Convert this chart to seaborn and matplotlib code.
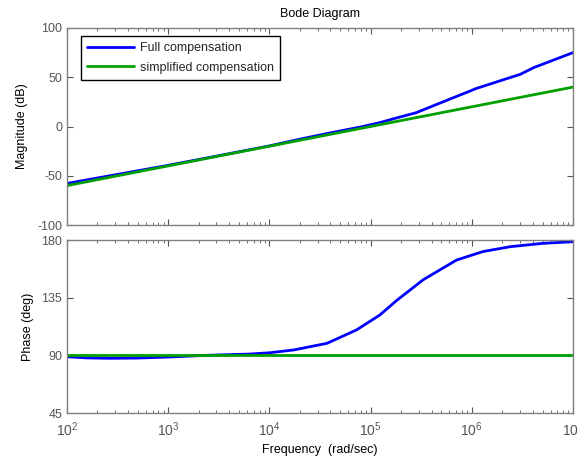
import numpy as np
import pandas as pd
import matplotlib
matplotlib.use("Agg")
import matplotlib.pyplot as plt
import seaborn as sns
from matplotlib.ticker import LogLocator, FixedLocator

# frequency points (log10 rad/sec)
mag_logw = [2.0, 2.5, 3.0, 3.5, 4.0, 4.3, 4.6, 4.9, 5.09, 5.25, 5.45, 5.72, 6.05, 6.48, 6.61, 7.0]
mag_full = [-57.8, -48.6, -39.4, -29.6, -19.7, -12.9, -6.5, -0.5, 3.9, 8.5, 14.0, 25.2,
            38.8, 53.0, 59.7, 75.0]
simp_logw = [2.0, 7.0]
mag_simp = [-60.0, 40.0]

ph_logw = [2.0, 2.2, 2.42, 2.7, 3.0, 3.41, 3.8, 4.0, 4.24, 4.57, 4.86, 5.09, 5.26, 5.52,
           5.85, 6.11, 6.38, 6.7, 7.0]
ph_full = [88.9, 88.0, 87.7, 87.9, 88.7, 90.1, 91.0, 92.0, 94.2, 99.4, 109.8, 121.4, 133.0,
           149.0, 164.4, 171.0, 174.8, 177.4, 178.7]
ph_simp = [90.0, 90.0]

mag_ticks = [-100, -50, 0, 50, 100]
ph_ticks = [45, 90, 135, 180]
x_ticks = [1e2, 1e3, 1e4, 1e5, 1e6, 1e7]

BLUE = "#0000ff"
GREEN = "#00a000"
GREY = "#555555"

sns.set_style("ticks")
plt.rcParams["font.family"] = ["Liberation Sans", "DejaVu Sans"]
plt.rcParams["mathtext.fontset"] = "custom"
plt.rcParams["mathtext.rm"] = "Liberation Sans"
plt.rcParams["axes.unicode_minus"] = False

mag_df = pd.concat([
    pd.DataFrame({"w": 10 ** np.array(mag_logw), "val": mag_full, "s": "Full compensation"}),
    pd.DataFrame({"w": 10 ** np.array(simp_logw), "val": mag_simp, "s": "simplified compensation"}),
])
ph_df = pd.concat([
    pd.DataFrame({"w": 10 ** np.array(ph_logw), "val": ph_full, "s": "Full compensation"}),
    pd.DataFrame({"w": 10 ** np.array(simp_logw), "val": ph_simp, "s": "simplified compensation"}),
])
pal = {"Full compensation": BLUE, "simplified compensation": GREEN}

fig = plt.figure(figsize=(5.78, 4.65), dpi=100)
ax1 = fig.add_axes([0.1159, 0.5161, 0.8754, 0.4237])
ax2 = fig.add_axes([0.1159, 0.1118, 0.8754, 0.372])

sns.lineplot(data=mag_df, x="w", y="val", hue="s", palette=pal, ax=ax1,
             linewidth=2, sort=False, estimator=None)
sns.lineplot(data=ph_df, x="w", y="val", hue="s", palette=pal, ax=ax2,
             linewidth=2, sort=False, estimator=None, legend=False)

for ax in (ax1, ax2):
    ax.set_xscale("log")
    ax.set_xlim(1e2, 1e7)
    ax.xaxis.set_major_locator(FixedLocator(x_ticks))
    ax.xaxis.set_minor_locator(LogLocator(base=10, subs=np.arange(2, 10), numticks=20))
    ax.tick_params(which="both", direction="in", top=True, right=True,
                   colors=GREY, labelsize=9)
    ax.tick_params(which="major", length=4)
    ax.tick_params(which="minor", length=2)
    ax.tick_params(axis="x", pad=5, labelsize=10)
    for sp in ax.spines.values():
        sp.set_color("#808080")
        sp.set_linewidth(1)
    ax.set_xlabel("")

ax1.set_ylim(-100, 100)
ax1.set_yticks(mag_ticks)
ax1.tick_params(labelbottom=False)
ax1.set_ylabel("Magnitude (dB)", fontsize=9, color="black")
ax1.yaxis.set_label_coords(-0.078, 0.5)
ax1.set_title("Bode Diagram", fontsize=9, color="black", pad=8)

ax2.set_ylim(45, 180)
ax2.set_yticks(ph_ticks)
ax2.set_ylabel("Phase (deg)", fontsize=9, color="black")
ax2.yaxis.set_label_coords(-0.065, 0.5)
ax2.set_xlabel("Frequency  (rad/sec)", fontsize=9, color="black", labelpad=4)

leg = ax1.legend(loc="upper left", bbox_to_anchor=(0.028, 0.96), borderaxespad=0,
                 fontsize=9, frameon=True, fancybox=False, edgecolor="black",
                 framealpha=1, handlelength=3.7, handletextpad=0.5,
                 borderpad=0.5, labelspacing=0.6)
leg.set_title(None)
leg.get_frame().set_linewidth(1)

fig.savefig("out.png", dpi=100)
